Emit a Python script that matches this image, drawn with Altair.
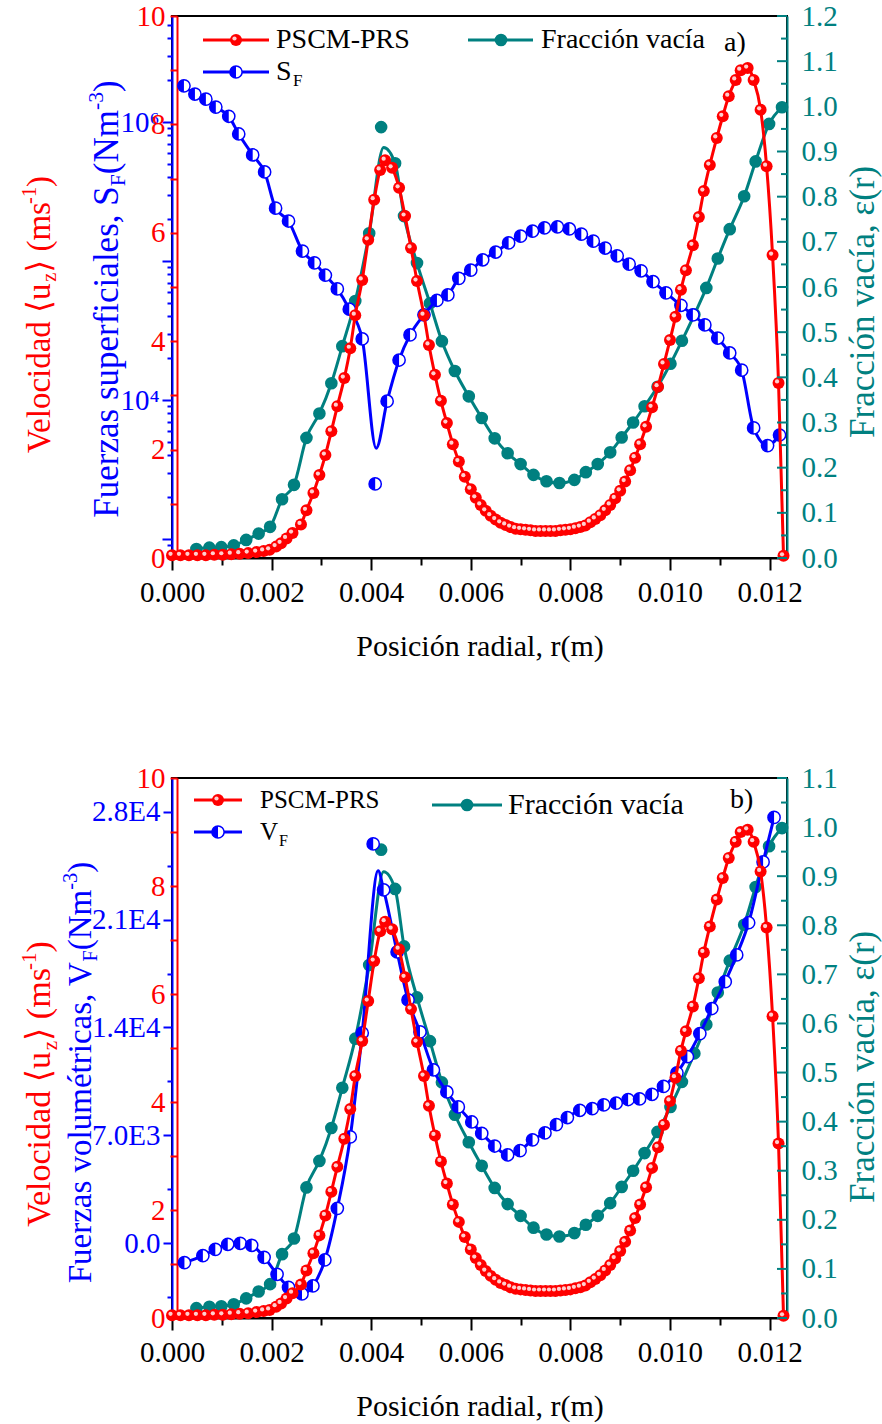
import altair as alt
import pandas as pd

FONT = "Liberation Serif, Times New Roman, DejaVu Serif, serif"
RED, BLUE, TEAL = "#ff0000", "#0000ff", "#008080"
PW, HA, HB = 615, 542, 540
XDOM = [0.0, 0.01235]
HALF = "M0,-1A1,1,0,0,0,0,1Z"

# ---------------- data ----------------
# PSCM-PRS velocity <u_z> (m/s), same in both panels
vel_r = [0.0, 0.00017, 0.00034, 0.00051, 0.00068, 0.00085, 0.00102, 0.00119, 0.00136, 0.00153,
         0.0017, 0.00184, 0.00196, 0.00209, 0.00219, 0.0023, 0.00242, 0.00259, 0.0027, 0.00284,
         0.00296, 0.00308, 0.0032, 0.00332, 0.00346, 0.00358, 0.00368, 0.00382, 0.00394, 0.00406,
         0.00418, 0.00428, 0.00442, 0.00456, 0.00468, 0.0048, 0.00492, 0.00506, 0.00516, 0.00528,
         0.0054, 0.00552, 0.00564, 0.00576, 0.00588, 0.0060, 0.0061, 0.0062, 0.0063, 0.0064,
         0.0065, 0.0066, 0.0067, 0.0068, 0.0069, 0.0070, 0.0071, 0.0072, 0.0073, 0.0074,
         0.0075, 0.0076, 0.0077, 0.0078, 0.0079, 0.0080, 0.0081, 0.0082, 0.0083, 0.0084,
         0.0085, 0.0086, 0.0087, 0.0088, 0.0089, 0.0090, 0.0091, 0.0092, 0.0093, 0.0094,
         0.00952, 0.00964, 0.00976, 0.00988, 0.0100, 0.01011, 0.01022, 0.01032, 0.01046, 0.01058,
         0.01068, 0.0108, 0.01094, 0.01106, 0.01118, 0.01132, 0.01142, 0.01156, 0.01168, 0.01182,
         0.01194, 0.01206, 0.01218, 0.01228]
vel_u = [0.05, 0.05, 0.05, 0.05, 0.05, 0.06, 0.06, 0.07, 0.08, 0.09,
         0.11, 0.13, 0.15, 0.21, 0.27, 0.36, 0.46, 0.62, 0.88, 1.20,
         1.53, 1.90, 2.34, 2.80, 3.32, 3.87, 4.48, 5.13, 5.87, 6.61,
         7.16, 7.34, 7.20, 6.83, 6.31, 5.72, 5.11, 4.48, 3.93, 3.38,
         2.90, 2.49, 2.10, 1.78, 1.50, 1.27, 1.11, 0.98, 0.87, 0.78,
         0.71, 0.65, 0.61, 0.57, 0.54, 0.53, 0.52, 0.51, 0.50, 0.50,
         0.50, 0.50, 0.50, 0.51, 0.52, 0.53, 0.55, 0.57, 0.60, 0.66,
         0.72, 0.79, 0.88, 0.98, 1.10, 1.24, 1.41, 1.62, 1.85, 2.10,
         2.42, 2.78, 3.16, 3.58, 4.02, 4.45, 4.95, 5.31, 5.77, 6.29,
         6.77, 7.25, 7.75, 8.15, 8.52, 8.82, 9.00, 9.04, 8.82, 8.27,
         7.23, 5.59, 3.23, 0.04]

# Void fraction epsilon(r), same in both panels
void_r = [0.00049, 0.00075, 0.00099, 0.00124, 0.00149, 0.00174, 0.00197, 0.00221, 0.00245, 0.0027,
          0.00296, 0.0032, 0.00342, 0.00368, 0.00396, 0.00448, 0.00466, 0.00492, 0.00518, 0.00542,
          0.00568, 0.00596, 0.00622, 0.00648, 0.00674, 0.007, 0.00726, 0.00752, 0.00778, 0.00808,
          0.00831, 0.00855, 0.0088, 0.00903, 0.00926, 0.00949, 0.00975, 0.01001, 0.01024, 0.01049,
          0.01073, 0.01096, 0.0112, 0.01149, 0.01172, 0.01199, 0.01225]
void_e = [0.020, 0.023, 0.024, 0.028, 0.040, 0.054, 0.069, 0.130, 0.162, 0.266,
          0.320, 0.387, 0.469, 0.569, 0.719, 0.874, 0.757, 0.653, 0.564, 0.480,
          0.414, 0.358, 0.310, 0.265, 0.232, 0.208, 0.184, 0.170, 0.166, 0.173,
          0.190, 0.208, 0.234, 0.267, 0.300, 0.336, 0.379, 0.430, 0.481, 0.539,
          0.598, 0.663, 0.728, 0.801, 0.878, 0.961, 0.998]
void_iso = (0.0042, 0.954)     # detached marker above the peak
void_peak = (0.00425, 0.909)   # peak of the smooth curve

# Surface forces S_F (N/m^3), panel a (log axis)
sf_r = [0.00024, 0.00046, 0.00068, 0.00088, 0.00114, 0.00134, 0.00162, 0.00186, 0.00208, 0.00234,
        0.00262, 0.00286, 0.00308, 0.00332, 0.00356, 0.00382, 0.00432, 0.00456, 0.00478, 0.00506,
        0.00532, 0.00554, 0.00576, 0.006, 0.00624, 0.0065, 0.00676, 0.007, 0.00724, 0.00748,
        0.00774, 0.00798, 0.00822, 0.00846, 0.0087, 0.00894, 0.00918, 0.00942, 0.00966, 0.00992,
        0.01022, 0.01046, 0.0107, 0.01096, 0.0112, 0.01144, 0.01168, 0.01196, 0.0122]
sf_v = [1.82e6, 1.59e6, 1.46e6, 1.28e6, 1.10e6, 8.2e5, 5.8e5, 4.37e5, 2.40e5, 1.94e5,
        1.18e5, 9.7e4, 7.9e4, 6.3e4, 4.5e4, 2.75e4, 9.8e3, 1.94e4, 2.94e4, 4.1e4,
        5.2e4, 5.7e4, 7.5e4, 8.6e4, 1.02e5, 1.16e5, 1.35e5, 1.51e5, 1.64e5, 1.73e5,
        1.76e5, 1.70e5, 1.56e5, 1.39e5, 1.24e5, 1.09e5, 9.5e4, 8.5e4, 7.1e4, 5.9e4,
        4.8e4, 4.1e4, 3.47e4, 2.79e4, 2.18e4, 1.64e4, 6.3e3, 4.7e3, 5.6e3]
sf_iso = (0.00408, 2.49e3)
sf_dip = (0.0041, 4.5e3)

# Volume forces V_F (N/m^3), panel b
vf_r = [0.00025, 0.00062, 0.00087, 0.00112, 0.00137, 0.0016, 0.00185, 0.00211, 0.00234, 0.00261,
        0.00283, 0.00307, 0.00332, 0.00358, 0.00382, 0.00425, 0.00452, 0.00474, 0.00498, 0.00525,
        0.00552, 0.00575, 0.00602, 0.00622, 0.00648, 0.00674, 0.00699, 0.00724, 0.00749, 0.00772,
        0.00794, 0.00819, 0.00844, 0.00867, 0.00892, 0.00916, 0.00939, 0.00964, 0.00987, 0.01014,
        0.01035, 0.0106, 0.01084, 0.01111, 0.01134, 0.01158, 0.01187, 0.01209]
vf_v = [-1280, -825, -410, -85, -20, -150, -930, -2030, -2880, -3310,
        -2790, -1100, 2250, 6890, 13640, 22930, 18900, 15790, 13710, 11240,
        9810, 8840, 7860, 7120, 6300, 5720, 6000, 6700, 7150, 7690,
        8150, 8620, 8730, 8970, 9080, 9320, 9360, 9660, 10170, 11050,
        12100, 13600, 15230, 16970, 18710, 20800, 24750, 27640]
vf_iso = (0.00404, 25920)
vf_peak = (0.00414, 24170)

# axis tick values
x_ticks = [round(i * 0.001, 3) for i in range(13)]
vel_ticks = list(range(11))
void_ticks_a = [round(i * 0.05, 2) for i in range(25)]
void_ticks_b = [round(i * 0.05, 2) for i in range(23)]
SF_DOM = [730, 5.79e6]
sf_ticks = [m * 10 ** k for k in range(2, 7) for m in range(1, 10) if SF_DOM[0] <= m * 10 ** k <= SF_DOM[1]]
vf_ticks = [-3500 + 3500 * i for i in range(10)]

# ---------------- helpers ----------------
ONE = pd.DataFrame({"k": [0]})
TW = {' ': 250, '(': 333, ')': 333, ',': 250, '-': 333, '.': 250, 'C': 667, 'F': 556, 'M': 889,
      'N': 722, 'P': 556, 'R': 667, 'S': 556, 'V': 722, 'a': 444, 'c': 444, 'd': 500, 'e': 444,
      'f': 333, 'i': 278, 'l': 278, 'm': 778, 'n': 500, 'o': 500, 'p': 500, 'r': 333, 's': 389,
      't': 278, 'u': 500, 'v': 500, 'z': 444, 'é': 444, 'í': 278, 'ó': 500, '⟨': 333, '⟩': 333,
      'ε': 440}


def tw(s, fs):
    return sum(TW.get(c, 500) for c in s) * fs / 1000.0


def txt(t, x, y, fs, color="black", align="left", baseline="middle"):
    return alt.Chart(ONE).mark_text(text=t, font=FONT, fontSize=fs, color=color, align=align,
                                    baseline=baseline).encode(x=alt.value(x), y=alt.value(y))


def rot_title(pieces, cx, cy, fs, color):
    small = fs * 0.62
    lens = [tw(t, fs if k == "n" else small) for t, k in pieces]
    y = cy + sum(lens) / 2.0
    out = []
    for (t, k), L in zip(pieces, lens):
        size = fs if k == "n" else small
        shift = {"n": 0.0, "sub": 0.2 * fs, "sup": -0.42 * fs}[k]
        bx = cx + 0.33 * fs + shift
        out.append(alt.Chart(ONE).mark_text(text=t, angle=270, align="left", baseline="alphabetic",
                                            font=FONT, fontSize=size, color=color)
                   .encode(x=alt.value(bx), y=alt.value(y)))
        y -= L
    return out


def leg_line(x1, x2, y, color):
    return alt.Chart(ONE).mark_rule(color=color, strokeWidth=3).encode(
        x=alt.value(x1), x2=alt.value(x2), y=alt.value(y))


def leg_marker(kind, x, y):
    if kind == "red":
        return [alt.Chart(ONE).mark_point(shape="circle", filled=True, fill=RED, size=144, opacity=1,
                                          strokeWidth=0).encode(x=alt.value(x), y=alt.value(y)),
                alt.Chart(ONE).mark_point(shape="circle", filled=True, fill="#ffe6e6", size=18, opacity=0.9,
                                          strokeWidth=0).encode(x=alt.value(x - 1.5), y=alt.value(y - 1.5))]
    if kind == "teal":
        return [alt.Chart(ONE).mark_point(shape="circle", filled=True, fill=TEAL, size=160, opacity=1,
                                          strokeWidth=0).encode(x=alt.value(x), y=alt.value(y))]
    return [alt.Chart(ONE).mark_point(shape="circle", filled=True, fill="white", stroke=BLUE, strokeWidth=1.5,
                                      size=150, opacity=1).encode(x=alt.value(x), y=alt.value(y)),
            alt.Chart(ONE).mark_point(shape=HALF, filled=True, fill=BLUE, size=150, opacity=1,
                                      strokeWidth=0).encode(x=alt.value(x), y=alt.value(y))]


MAJ_X = "abs(datum.value*500 - round(datum.value*500)) < 0.01"
XAXIS = alt.Axis(values=x_ticks, labelExpr=MAJ_X + " ? format(datum.value, '.3f') : ''",
                 tickSize={"condition": {"test": MAJ_X, "value": 12}, "value": 7},
                 tickColor="black", tickWidth=2, domainColor="black", domainWidth=2,
                 labelColor="black", labelFont=FONT, labelFontSize=29, labelPadding=8,
                 labelOverlap=False, labelFlush=False, grid=False, title="Posición radial, r(m)",
                 titleFont=FONT, titleFontSize=30, titleFontWeight="normal", titleColor="black",
                 titlePadding=24)


def xenc():
    return alt.X("r:Q", scale=alt.Scale(domain=XDOM, nice=False, zero=False), axis=XAXIS)


RED_AXIS = alt.Axis(orient="left", offset=-5, values=vel_ticks,
                    labelExpr="datum.value % 2 == 0 ? '' + datum.value : ''",
                    tickSize=7, tickWidth=2, tickColor=RED, domainColor=RED, domainWidth=2,
                    labelColor=RED, labelFont=FONT, labelFontSize=29, labelPadding=5,
                    labelOverlap=False, grid=False, title=None)


def teal_axis(top):
    return alt.Axis(orient="right", values=[round(i * 0.1, 1) for i in range(int(round(top * 10)) + 1)],
                    format=".1f", ticks=False, domainColor=TEAL, domainWidth=2, labelColor=TEAL,
                    labelFont=FONT, labelFontSize=29, labelPadding=14, labelOverlap=False,
                    grid=False, title=None)


LOGMAJ = "abs(log(datum.value)/LN10 - round(log(datum.value)/LN10)) < 0.001"
SF_AXIS = alt.Axis(orient="left", values=sf_ticks,
                   labelExpr="abs(log(datum.value)/LN10 - 6) < 0.001 ? '10⁶' : "
                             "(abs(log(datum.value)/LN10 - 4) < 0.001 ? '10⁴' : '')",
                   tickSize={"condition": {"test": LOGMAJ, "value": 10}, "value": 5},
                   tickColor=BLUE, tickWidth=2, domainColor=BLUE, domainWidth=2, labelColor=BLUE,
                   labelFont=FONT, labelFontSize=29, labelPadding=3, labelOverlap=False,
                   grid=False, title=None)

VFMAJ = "datum.value % 7000 == 0"
VF_AXIS = alt.Axis(orient="left", values=vf_ticks,
                   labelExpr="datum.value == 0 ? '0.0' : (datum.value % 7000 != 0 ? '' : "
                             "(datum.value < 10000 ? format(datum.value/1000, '.1f') + 'E3' : "
                             "format(datum.value/10000, '.1f') + 'E4'))",
                   tickSize={"condition": {"test": VFMAJ, "value": 9}, "value": 5},
                   tickColor=BLUE, tickWidth=2, domainColor=BLUE, domainWidth=2, labelColor=BLUE,
                   labelFont=FONT, labelFontSize=29, labelPadding=3, labelOverlap=False,
                   grid=False, title=None)


def red_layers():
    df = pd.DataFrame({"r": vel_r, "u": vel_u})
    sc = alt.Scale(domain=[0, 10], nice=False, zero=False)
    line = alt.Chart(df).mark_line(color=RED, strokeWidth=3, interpolate="monotone").encode(
        x=xenc(), y=alt.Y("u:Q", scale=sc, axis=RED_AXIS))
    pts = alt.Chart(df).mark_point(shape="circle", filled=True, fill=RED, size=144, opacity=1,
                                   strokeWidth=0).encode(x=xenc(), y=alt.Y("u:Q", scale=sc, axis=None))
    hl = alt.Chart(df).mark_point(shape="circle", filled=True, fill="#ffe6e6", size=18, opacity=0.9,
                                  strokeWidth=0, xOffset=-1.5, yOffset=-1.5).encode(
        x=xenc(), y=alt.Y("u:Q", scale=sc, axis=None))
    return [line, pts, hl]


def teal_layers(top, ticks):
    mk = pd.DataFrame({"r": void_r + [void_iso[0]], "e": void_e + [void_iso[1]]})
    ln = pd.DataFrame({"r": void_r + [void_peak[0]], "e": void_e + [void_peak[1]]}).sort_values("r")
    sc = alt.Scale(domain=[0, top], nice=False, zero=False)
    line = alt.Chart(ln).mark_line(color=TEAL, strokeWidth=3, interpolate="monotone").encode(
        x=xenc(), y=alt.Y("e:Q", scale=sc, axis=teal_axis(top)))
    pts = alt.Chart(mk).mark_point(shape="circle", filled=True, fill=TEAL, size=160, opacity=1,
                                   strokeWidth=0).encode(x=xenc(), y=alt.Y("e:Q", scale=sc, axis=None))
    tk = pd.DataFrame({"e": ticks})
    big = tk[[abs(v * 10 - round(v * 10)) < 0.01 for v in ticks]]
    small = tk[[abs(v * 10 - round(v * 10)) >= 0.01 for v in ticks]]
    t1 = alt.Chart(big).mark_rule(color=TEAL, strokeWidth=2).encode(
        y=alt.Y("e:Q", scale=sc, axis=None), x=alt.value(PW - 10), x2=alt.value(PW))
    t2 = alt.Chart(small).mark_rule(color=TEAL, strokeWidth=2).encode(
        y=alt.Y("e:Q", scale=sc, axis=None), x=alt.value(PW - 6), x2=alt.value(PW))
    return [line, pts], [t1, t2]


def blue_layers(rs, vs, iso, extra, sc, axis):
    mk = pd.DataFrame({"r": rs + [iso[0]], "v": vs + [iso[1]]})
    ln = pd.DataFrame({"r": rs + [extra[0]], "v": vs + [extra[1]]}).sort_values("r")
    line = alt.Chart(ln).mark_line(color=BLUE, strokeWidth=3, interpolate="monotone").encode(
        x=xenc(), y=alt.Y("v:Q", scale=sc, axis=axis))
    ring = alt.Chart(mk).mark_point(shape="circle", filled=True, fill="white", stroke=BLUE, strokeWidth=1.5,
                                    size=150, opacity=1).encode(x=xenc(), y=alt.Y("v:Q", scale=sc, axis=None))
    half = alt.Chart(mk).mark_point(shape=HALF, filled=True, fill=BLUE, size=150, opacity=1,
                                    strokeWidth=0).encode(x=xenc(), y=alt.Y("v:Q", scale=sc, axis=None))
    return [line, ring, half]


# ---------------- panel a ----------------
teal_a, ticks_a = teal_layers(1.2, void_ticks_a)
blue_a = blue_layers(sf_r, sf_v, sf_iso, sf_dip,
                     alt.Scale(type="log", domain=SF_DOM, nice=False), SF_AXIS)
leg_a = [leg_line(31, 97, 24, RED)] + leg_marker("red", 64, 24) + [txt("PSCM-PRS", 104, 24, 28)]
leg_a += [leg_line(31, 97, 56, BLUE)] + leg_marker("blue", 64, 56) + [txt("S", 104, 56, 28), txt("F", 121, 65, 17)]
leg_a += [leg_line(296, 361, 24, TEAL)] + leg_marker("teal", 329, 24) + [txt("Fracción vacía", 369, 24, 28)]
leg_a += [txt("a)", 552, 27, 28)]
tit_a = rot_title([("Velocidad ⟨u", "n"), ("z", "sub"), ("⟩ (ms", "n"), ("-1", "sup"), (")", "n")],
                  -133, 298.5, 33, RED)
tit_a += rot_title([("Fuerzas superficiales, S", "n"), ("F", "sub"), ("(Nm", "n"), ("-3", "sup"), (")", "n")],
                   -66, 283, 35, BLUE)
tit_a += rot_title([("Fracción vacía, ε(r)", "n")], 690, 285.5, 35, TEAL)

panel_a = alt.layer(*(teal_a + blue_a + red_layers() + ticks_a + leg_a + tit_a)).resolve_scale(
    y="independent").properties(width=PW, height=HA)

# ---------------- panel b ----------------
teal_b, ticks_b = teal_layers(1.1, void_ticks_b)
blue_b = blue_layers(vf_r, vf_v, vf_iso, vf_peak,
                     alt.Scale(domain=[-4870, 30200], nice=False, zero=False), VF_AXIS)
leg_b = [leg_line(22, 70, 22, RED)] + leg_marker("red", 46, 22) + [txt("PSCM-PRS", 88, 22, 25)]
leg_b += [leg_line(22, 70, 54, BLUE)] + leg_marker("blue", 46, 54) + [txt("V", 88, 54, 25), txt("F", 107, 63, 16)]
leg_b += [leg_line(260, 330, 27, TEAL)] + leg_marker("teal", 295, 27) + [txt("Fracción vacía", 336, 27, 30)]
leg_b += [txt("b)", 558, 22, 28)]
tit_b = rot_title([("Velocidad ⟨u", "n"), ("z", "sub"), ("⟩ (ms", "n"), ("-1", "sup"), (")", "n")],
                  -133, 306, 34, RED)
tit_b += rot_title([("Fuerzas volumétricas, V", "n"), ("F", "sub"), ("(Nm", "n"), ("-3", "sup"), (")", "n")],
                   -92, 294.5, 33, BLUE)
tit_b += rot_title([("Fracción vacía, ε(r)", "n")], 690, 288.5, 35, TEAL)

panel_b = alt.layer(*(teal_b + blue_b + red_layers() + ticks_b + leg_b + tit_b)).resolve_scale(
    y="independent").properties(width=PW, height=HB)

chart = alt.vconcat(panel_a, panel_b, spacing=101).properties(
    padding={"left": 17, "top": 1, "right": 0, "bottom": 0}, background="white"
).configure_view(stroke="black", strokeWidth=2)

chart.save("out.html", embed_options={"renderer": "svg", "actions": False})
